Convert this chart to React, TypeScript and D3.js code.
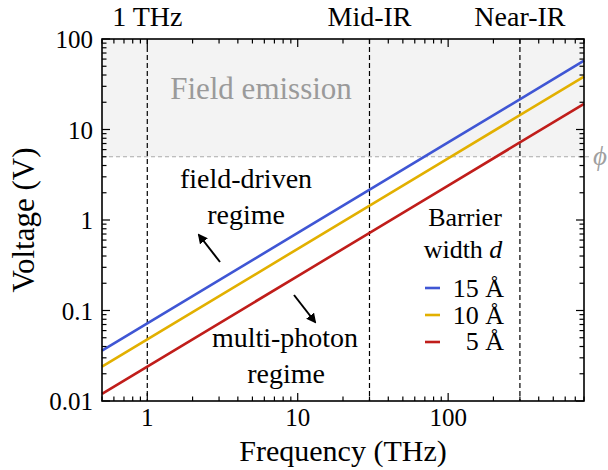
import React from "react";
import * as d3 from "d3";

// Frequencies (THz) at which the voltage curves are sampled
const freqs = [0.5, 1, 10, 100, 800];
// Voltage (V) for each barrier width
const volt15 = [0.036, 0.072, 0.72, 7.2, 57.6];
const volt10 = [0.024, 0.048, 0.48, 4.8, 38.4];
const volt5 = [0.012, 0.024, 0.24, 2.4, 19.2];

const seriesNames = ["15 Å", "10 Å", "5 Å"];
const seriesColors = ["#3f56d4", "#e2b000", "#c01d1a"];

// Spectral region markers (THz)
const regionFreqs = [1, 30, 300];
const regionLabels = ["1 THz", "Mid-IR", "Near-IR"];

const xTicks = [1, 10, 100];
const xTickLabels = ["1", "10", "100"];
const yTicks = [0.01, 0.1, 1, 10, 100];
const yTickLabels = ["0.01", "0.1", "1", "10", "100"];

const workFunction = 5; // V threshold for field emission

const W = 608;
const H = 470;
const M = { left: 102, right: 584, top: 39, bottom: 401 };

const serif = (size: number, italic = false): React.CSSProperties => ({
  fontFamily: '"Liberation Serif"',
  fontSize: size,
  fontStyle: italic ? "italic" : "normal",
});

export default function App() {
  const x = d3.scaleLog().domain([0.5, 800]).range([M.left, M.right]);
  const y = d3.scaleLog().domain([0.01, 100]).range([M.bottom, M.top]);

  const line = d3
    .line<[number, number]>()
    .x((d) => x(d[0]))
    .y((d) => y(d[1]));

  const series = [volt15, volt10, volt5].map((vs) =>
    freqs.map((f, i) => [f, vs[i]] as [number, number])
  );

  // minor ticks for log axes
  const xMinor: number[] = [];
  for (let dec = 0.1; dec <= 100; dec *= 10) {
    for (let k = 2; k <= 9; k++) {
      const v = +(k * dec).toPrecision(3);
      if (v >= 0.5 && v <= 800) xMinor.push(v);
    }
  }
  const yMinor: number[] = [];
  for (let dec = 0.01; dec <= 10; dec *= 10) {
    for (let k = 2; k <= 9; k++) yMinor.push(+(k * dec).toPrecision(3));
  }

  const majLen = 8;
  const minLen = 4.5;
  const yThresh = y(workFunction);

  return (
    <svg width={W} height={H} style={{ position: "absolute", left: 0, top: 0 }}>
      <rect x={0} y={0} width={W} height={H} fill="#fff" />
      {/* field emission region */}
      <rect
        x={M.left}
        y={M.top}
        width={M.right - M.left}
        height={yThresh - M.top}
        fill="#f3f3f3"
      />
      <line
        x1={M.left}
        x2={590}
        y1={yThresh}
        y2={yThresh}
        stroke="#aaaaaa"
        strokeWidth={1.2}
        strokeDasharray="4,3"
      />
      <text x={593} y={yThresh + 8} style={serif(27, true)} fill="#a0a0a0">
        ϕ
      </text>
      <text x={261} y={99} textAnchor="middle" style={serif(31)} fill="#9a9a9a">
        Field emission
      </text>

      {/* region markers */}
      {regionFreqs.map((f, i) => (
        <g key={f}>
          <line
            x1={x(f)}
            x2={x(f)}
            y1={M.top}
            y2={M.bottom}
            stroke="#000"
            strokeWidth={1.2}
            strokeDasharray="5,3"
          />
          <text x={x(f)} y={26} textAnchor="middle" style={serif(28)} fill="#000">
            {regionLabels[i]}
          </text>
        </g>
      ))}

      {/* voltage curves */}
      {series.map((s, i) => (
        <path
          key={i}
          d={line(s) ?? ""}
          fill="none"
          stroke={seriesColors[i]}
          strokeWidth={2.6}
        />
      ))}

      {/* annotations */}
      <text x={246} y={188} textAnchor="middle" style={serif(28)} fill="#000">field-driven</text>
      <text x={246} y={224} textAnchor="middle" style={serif(28)} fill="#000">regime</text>
      <text x={285} y={347} textAnchor="middle" style={serif(28)} fill="#000">multi-photon</text>
      <text x={286} y={383} textAnchor="middle" style={serif(28)} fill="#000">regime</text>
      <defs>
        <marker
          id="ah"
          viewBox="0 0 10 10"
          refX={8}
          refY={5}
          markerWidth={5}
          markerHeight={5}
          orient="auto"
        >
          <path d="M0,0 L10,5 L0,10 z" fill="#000" />
        </marker>
      </defs>
      <line x1={220} y1={262} x2={199} y2={235} stroke="#000" strokeWidth={2} markerEnd="url(#ah)" />
      <line x1={294} y1={295} x2={315} y2={322} stroke="#000" strokeWidth={2} markerEnd="url(#ah)" />

      {/* legend */}
      <text x={465} y={226} textAnchor="middle" style={serif(26)} fill="#000">Barrier</text>
      <text x={463} y={258} textAnchor="middle" style={serif(26)} fill="#000">
        width <tspan style={serif(26, true)}>d</tspan>
      </text>
      {seriesNames.map((n, i) => (
        <g key={n}>
          <line
            x1={425}
            x2={440}
            y1={288 + i * 27}
            y2={288 + i * 27}
            stroke={seriesColors[i]}
            strokeWidth={2.6}
          />
          <text x={504} y={297 + i * 26.5} textAnchor="end" style={serif(26)} fill="#000">
            {n}
          </text>
        </g>
      ))}

      {/* ticks on all four sides */}
      <g stroke="#000" strokeWidth={1.2}>
        {xTicks.map((t) => (
          <g key={"xt" + t}>
            <line x1={x(t)} x2={x(t)} y1={M.bottom} y2={M.bottom - majLen} />
            <line x1={x(t)} x2={x(t)} y1={M.top} y2={M.top + majLen} />
          </g>
        ))}
        {xMinor.map((t) => (
          <g key={"xm" + t}>
            <line x1={x(t)} x2={x(t)} y1={M.bottom} y2={M.bottom - minLen} />
            <line x1={x(t)} x2={x(t)} y1={M.top} y2={M.top + minLen} />
          </g>
        ))}
        {yTicks.map((t) => (
          <g key={"yt" + t}>
            <line x1={M.left} x2={M.left + majLen} y1={y(t)} y2={y(t)} />
            <line x1={M.right} x2={M.right - majLen} y1={y(t)} y2={y(t)} />
          </g>
        ))}
        {yMinor.map((t) => (
          <g key={"ym" + t}>
            <line x1={M.left} x2={M.left + minLen} y1={y(t)} y2={y(t)} />
            <line x1={M.right} x2={M.right - minLen} y1={y(t)} y2={y(t)} />
          </g>
        ))}
      </g>
      <rect
        x={M.left}
        y={M.top}
        width={M.right - M.left}
        height={M.bottom - M.top}
        fill="none"
        stroke="#000"
        strokeWidth={1.6}
      />

      {/* tick labels */}
      {xTicks.map((t, i) => (
        <text key={"xl" + t} x={x(t)} y={426} textAnchor="middle" style={serif(25)} fill="#000">
          {xTickLabels[i]}
        </text>
      ))}
      {yTicks.map((t, i) => (
        <text key={"yl" + t} x={93} y={y(t) + 9} textAnchor="end" style={serif(25)} fill="#000">
          {yTickLabels[i]}
        </text>
      ))}

      {/* axis titles */}
      <text x={343} y={461} textAnchor="middle" style={serif(30)} fill="#000">
        Frequency (THz)
      </text>
      <text
        transform={`translate(34,${(M.top + M.bottom) / 2}) rotate(-90)`}
        textAnchor="middle"
        style={serif(31)}
        fill="#000"
      >
        Voltage (V)
      </text>
    </svg>
  );
}
